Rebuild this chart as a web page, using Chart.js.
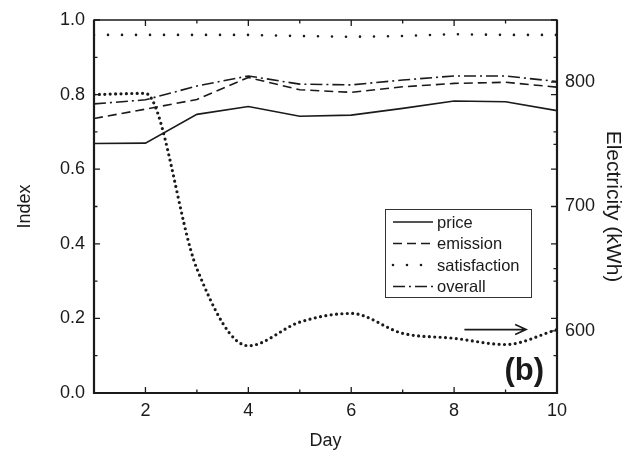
<!DOCTYPE html>
<html>
<head>
<meta charset="utf-8">
<script src="https://cdn.jsdelivr.net/npm/chart.js@4"></script>
<style>
  html, body { margin: 0; padding: 0; background: #fff; }
  #wrap { width: 633px; height: 452px; }
</style>
</head>
<body>
<div id="wrap"><canvas id="indexChart" width="633" height="452"></canvas></div>
<script>
// Daily indices (left axis) and electricity use (right axis)
const days = [1, 2, 3, 4, 5, 6, 7, 8, 9, 10];
const price = [0.669, 0.670, 0.747, 0.768, 0.742, 0.745, 0.763, 0.783, 0.781, 0.757];
const emission = [0.736, 0.761, 0.787, 0.846, 0.813, 0.806, 0.821, 0.830, 0.833, 0.820];
const satisfaction = [0.960, 0.960, 0.960, 0.960, 0.957, 0.955, 0.957, 0.962, 0.960, 0.960];
const overall = [0.775, 0.786, 0.823, 0.850, 0.828, 0.826, 0.839, 0.850, 0.850, 0.835];
const electricity = [790, 791, 650, 588, 607, 614, 598, 594, 589, 601];

// Tick values
const dayTicks = [2, 4, 6, 8, 10];
const dayMinor = [1, 3, 5, 7, 9];
const indexTicks = [0, 0.2, 0.4, 0.6, 0.8, 1.0];
const indexMinor = [0.1, 0.3, 0.5, 0.7, 0.9];
const kwhTicks = [600, 700, 800];
const kwhMinor = [550, 650, 750, 850];

const INK = '#1a1a1a';
const FONT = "'Liberation Sans', Arial, sans-serif";

function toPoints(ys) {
    return days.map((d, i) => ({ x: d, y: ys[i] }));
}

// Ticks point into the plot on all four sides
const frameTicks = {
    id: 'frameTicks',
    afterDraw(chart) {
        const { ctx, chartArea: a, scales } = chart;
        const major = 6, minor = 3.5;
        ctx.save();
        ctx.strokeStyle = INK;
        ctx.lineWidth = 1.3;
        ctx.beginPath();
        const vTick = (vals, len) => vals.forEach(v => {
            const px = scales.x.getPixelForValue(v);
            ctx.moveTo(px, a.bottom); ctx.lineTo(px, a.bottom - len);
            ctx.moveTo(px, a.top); ctx.lineTo(px, a.top + len);
        });
        const hTick = (scale, vals, len, left, right) => vals.forEach(v => {
            const py = scale.getPixelForValue(v);
            if (left) { ctx.moveTo(a.left, py); ctx.lineTo(a.left + len, py); }
            if (right) { ctx.moveTo(a.right, py); ctx.lineTo(a.right - len, py); }
        });
        vTick(dayTicks, major);
        vTick(dayMinor, minor);
        hTick(scales.y, indexTicks, major, true, true);
        hTick(scales.y, indexMinor, minor, true, true);
        hTick(scales.y2, kwhTicks, major, false, true);
        hTick(scales.y2, kwhMinor, minor, false, true);
        ctx.stroke();

        // frame
        ctx.lineWidth = 1.5;
        ctx.strokeRect(a.left, a.top, a.right - a.left, a.bottom - a.top);
        ctx.lineWidth = 2.2;
        ctx.beginPath();
        ctx.moveTo(a.left, a.top); ctx.lineTo(a.left, a.bottom); ctx.lineTo(a.right, a.bottom);
        ctx.lineTo(a.right, a.top);
        ctx.stroke();
        ctx.restore();
    }
};

// Legend box for the four index series
const boxLegend = {
    id: 'boxLegend',
    afterDraw(chart) {
        const { ctx, chartArea: a } = chart;
        const x0 = a.left + 291, y0 = a.top + 189, w = 146, h = 88;
        ctx.save();
        ctx.fillStyle = '#fff';
        ctx.fillRect(x0, y0, w, h);
        ctx.strokeStyle = '#333';
        ctx.lineWidth = 1;
        ctx.strokeRect(x0 + 0.5, y0 + 0.5, w, h);
        ctx.font = '16.5px ' + FONT;
        ctx.textBaseline = 'middle';
        chart.data.datasets.slice(0, 4).forEach((ds, i) => {
            const y = y0 + 13 + i * 21.5;
            ctx.strokeStyle = ds.borderColor;
            ctx.lineWidth = ds.borderWidth;
            ctx.lineCap = ds.borderCapStyle || 'butt';
            ctx.setLineDash(ds.borderDash || []);
            ctx.beginPath();
            ctx.moveTo(x0 + 8, y); ctx.lineTo(x0 + 48, y);
            ctx.stroke();
            ctx.setLineDash([]);
            ctx.fillStyle = INK;
            ctx.fillText(ds.label, x0 + 52, y + 1);
        });
        ctx.restore();
    }
};

// Panel letter and the arrow pointing at the electricity axis
const panelMarks = {
    id: 'panelMarks',
    afterDraw(chart) {
        const { ctx, chartArea: a, scales } = chart;
        ctx.save();
        ctx.fillStyle = INK;
        ctx.font = 'bold 31px ' + FONT;
        ctx.textAlign = 'right';
        ctx.textBaseline = 'alphabetic';
        ctx.fillText('(b)', a.right - 13, a.bottom - 13);

        const x1 = scales.x.getPixelForValue(8.2);
        const x2 = scales.x.getPixelForValue(9.4);
        const y = scales.y2.getPixelForValue(601);
        ctx.strokeStyle = INK;
        ctx.lineWidth = 1.6;
        ctx.beginPath();
        ctx.moveTo(x1, y); ctx.lineTo(x2, y);
        ctx.moveTo(x2 - 11, y - 5); ctx.lineTo(x2, y); ctx.lineTo(x2 - 11, y + 5);
        ctx.stroke();
        ctx.restore();
    }
};

function fixTicks(vals) {
    return function (scale) {
        scale.ticks = vals.map(v => ({ value: v }));
    };
}

const tickFont = { family: FONT, size: 18 };
const titleFont = { family: FONT, size: 18 };

new Chart(document.getElementById('indexChart'), {
    type: 'line',
    data: {
        datasets: [
            {
                label: 'price',
                data: toPoints(price),
                borderColor: INK,
                borderWidth: 1.6,
                yAxisID: 'y'
            },
            {
                label: 'emission',
                data: toPoints(emission),
                borderColor: INK,
                borderWidth: 1.6,
                borderDash: [9, 5],
                yAxisID: 'y'
            },
            {
                label: 'satisfaction',
                data: toPoints(satisfaction),
                borderColor: INK,
                borderWidth: 2.6,
                borderDash: [0, 14],
                borderCapStyle: 'round',
                yAxisID: 'y'
            },
            {
                label: 'overall',
                data: toPoints(overall),
                borderColor: INK,
                borderWidth: 1.6,
                borderDash: [12, 4, 2, 4],
                yAxisID: 'y'
            },
            {
                label: 'Electricity',
                data: toPoints(electricity),
                borderColor: INK,
                borderWidth: 3.2,
                borderDash: [0, 5.4],
                borderCapStyle: 'round',
                cubicInterpolationMode: 'monotone',
                yAxisID: 'y2'
            }
        ]
    },
    options: {
        responsive: false,
        animation: false,
        layout: { padding: { top: 20, left: 0, right: 0, bottom: 0 } },
        elements: { point: { radius: 0 }, line: { tension: 0 } },
        plugins: {
            legend: { display: false },
            tooltip: { enabled: false }
        },
        scales: {
            x: {
                type: 'linear',
                min: 1,
                max: 10,
                afterBuildTicks: fixTicks(dayTicks),
                afterFit(scale) { scale.height = 59; },
                grid: { display: false, drawTicks: false },
                border: { display: false },
                ticks: { font: tickFont, color: INK, padding: 7, maxRotation: 0 },
                title: { display: true, text: 'Day', font: titleFont, color: INK, padding: { top: 0, bottom: 0 } }
            },
            y: {
                position: 'left',
                min: 0,
                max: 1,
                afterBuildTicks: fixTicks(indexTicks),
                afterFit(scale) { scale.width = 94; },
                grid: { display: false, drawTicks: false },
                border: { display: false },
                ticks: { font: tickFont, color: INK, padding: 9, callback: v => v.toFixed(1) },
                title: { display: true, text: 'Index', font: titleFont, color: INK, padding: { top: 14, bottom: 0 } }
            },
            y2: {
                position: 'right',
                min: 550,
                max: 850,
                afterBuildTicks: fixTicks(kwhTicks),
                afterFit(scale) { scale.width = 76; },
                grid: { display: false, drawTicks: false },
                border: { display: false },
                ticks: { font: tickFont, color: INK, padding: 8 },
                title: { display: true, text: 'Electricity (kWh)', font: { family: FONT, size: 21 }, color: INK, padding: { top: 8, bottom: 0 } }
            }
        }
    },
    plugins: [frameTicks, boxLegend, panelMarks]
});
</script>
</body>
</html>
